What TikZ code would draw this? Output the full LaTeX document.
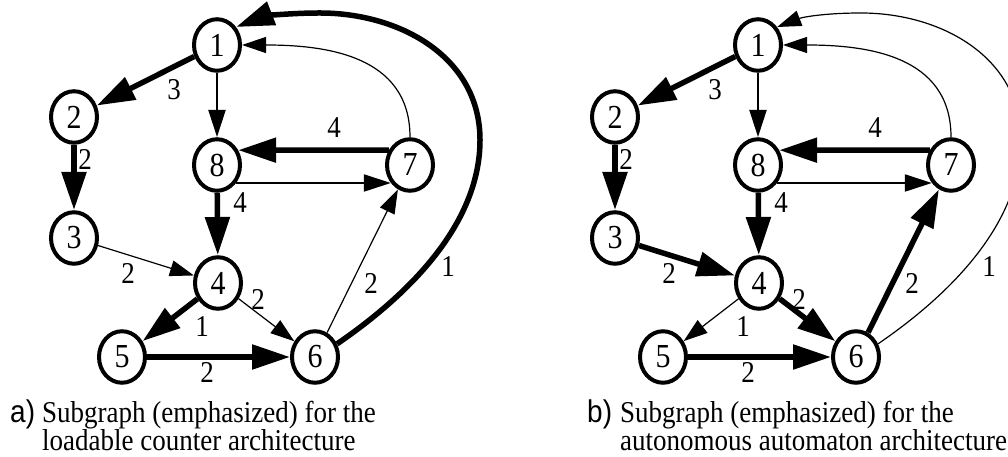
\documentclass[tikz,border=0pt]{standalone}
\usepackage{fontspec}
\setmainfont{Liberation Serif}
\setsansfont{Liberation Sans}
\usetikzlibrary{arrows.meta}

% one weighted graph; the five edges that differ between a) and b)
% take their looks from the styles e34, e45, e46, e67, e61
\newcommand{\kgraph}{%
  \node[st] (n1) at (217,412) {1};
  \node[st] (n2) at (74,340) {2};
  \node[st] (n3) at (74,219) {3};
  \node[st] (n8) at (217,292) {8};
  \node[st] (n7) at (410,292) {7};
  \node[st] (n4) at (218,174) {4};
  \node[st] (n5) at (122,100) {5};
  \node[st] (n6) at (315,100) {6};
  % === fixed edges ===
  \draw[thk] (n1) -- (n2);
  \draw[med] (n1) -- (n8);
  \draw[thk] (n2) -- (n3);
  \draw[thk] (n7.148) -- (n8.32);
  \draw[med] (n8.-40) -- (n7.220);
  \draw[thk] (n8) -- (n4);
  \draw[thk] (n5) -- (n6);
  \draw[thn] (n7.north) to[out=90, in=0, looseness=1.1] (n1.east);
  % === edges of the subgraph ===
  \draw[e34] (n3) -- (n4);
  \draw[e45] (n4) -- (n5);
  \draw[e46] (n4) -- (n6);
  \draw[e67] (n6) -- (n7);
  \draw[e61] (n6.28) .. controls (420,170) and (480,240) .. (480,317)
    .. controls (480,400) and (400,444) .. (320,444)
    .. controls (285,444) and (262,440) .. (n1.40);
  % === weights ===
  \node[lbl] (w12) at (174,367) {3};
  \node[lbl] (w23) at (85,298) {2};
  \node[lbl] (w78) at (334,329) {4};
  \node[lbl] (w84) at (240,254) {4};
  \node[lbl] (w34) at (128,184) {2};
  \node[lbl] (w46) at (258,158) {2};
  \node[lbl] (w45) at (202,130) {1};
  \node[lbl] (w56) at (207,85) {2};
  \node[lbl] (w67) at (371,174) {2};
  \node[lbl] (w61) at (448,190) {1};
}

\begin{document}
\begin{tikzpicture}[
    x=1pt, y=1pt,
    tall/.style={yscale=1.12, transform shape},
    st/.style={circle, draw, tall, line width=4pt, inner sep=0pt, minimum size=46pt, font=\fontsize{30}{32}\selectfont},
    lbl/.style={tall, inner sep=0pt, font=\fontsize{27}{28}\selectfont},
    thn/.style={line width=1.2pt, -{Triangle[length=24pt, width=16pt]}},
    med/.style={line width=2pt, -{Triangle[length=27pt, width=17pt]}},
    thk/.style={line width=5.5pt, -{Triangle[length=38pt, width=24pt]}},
    tag/.style={tall, inner sep=0pt, anchor=base west, font=\sffamily\fontsize{28}{28}\selectfont},
    captxt/.style={tall, inner sep=0pt, anchor=base west, align=left, font=\fontsize{27}{24.5}\selectfont},
]
\useasboundingbox (0,0) rectangle (1008,457);
% === a) loadable counter ===
\begin{scope}[name prefix=a-, e34/.style=thn, e45/.style=thk, e46/.style=thn, e67/.style=thn, e61/.style=thk]
\kgraph
\end{scope}
% === b) autonomous automaton ===
\begin{scope}[xshift=541pt, name prefix=b-, e34/.style=thk, e45/.style=thn, e46/.style=thk, e67/.style=thk, e61/.style=thn]
\kgraph
\end{scope}
% === captions ===
\node[tag] (taga) at (10,34) {a)};
\node[captxt] (capa) at (42,6) {Subgraph (emphasized) for the\\loadable counter architecture};
\node[tag] (tagb) at (587,34) {b)};
\node[captxt] (capb) at (620,6) {Subgraph (emphasized) for the\\autonomous automaton architecture};
\end{tikzpicture}
\end{document}
